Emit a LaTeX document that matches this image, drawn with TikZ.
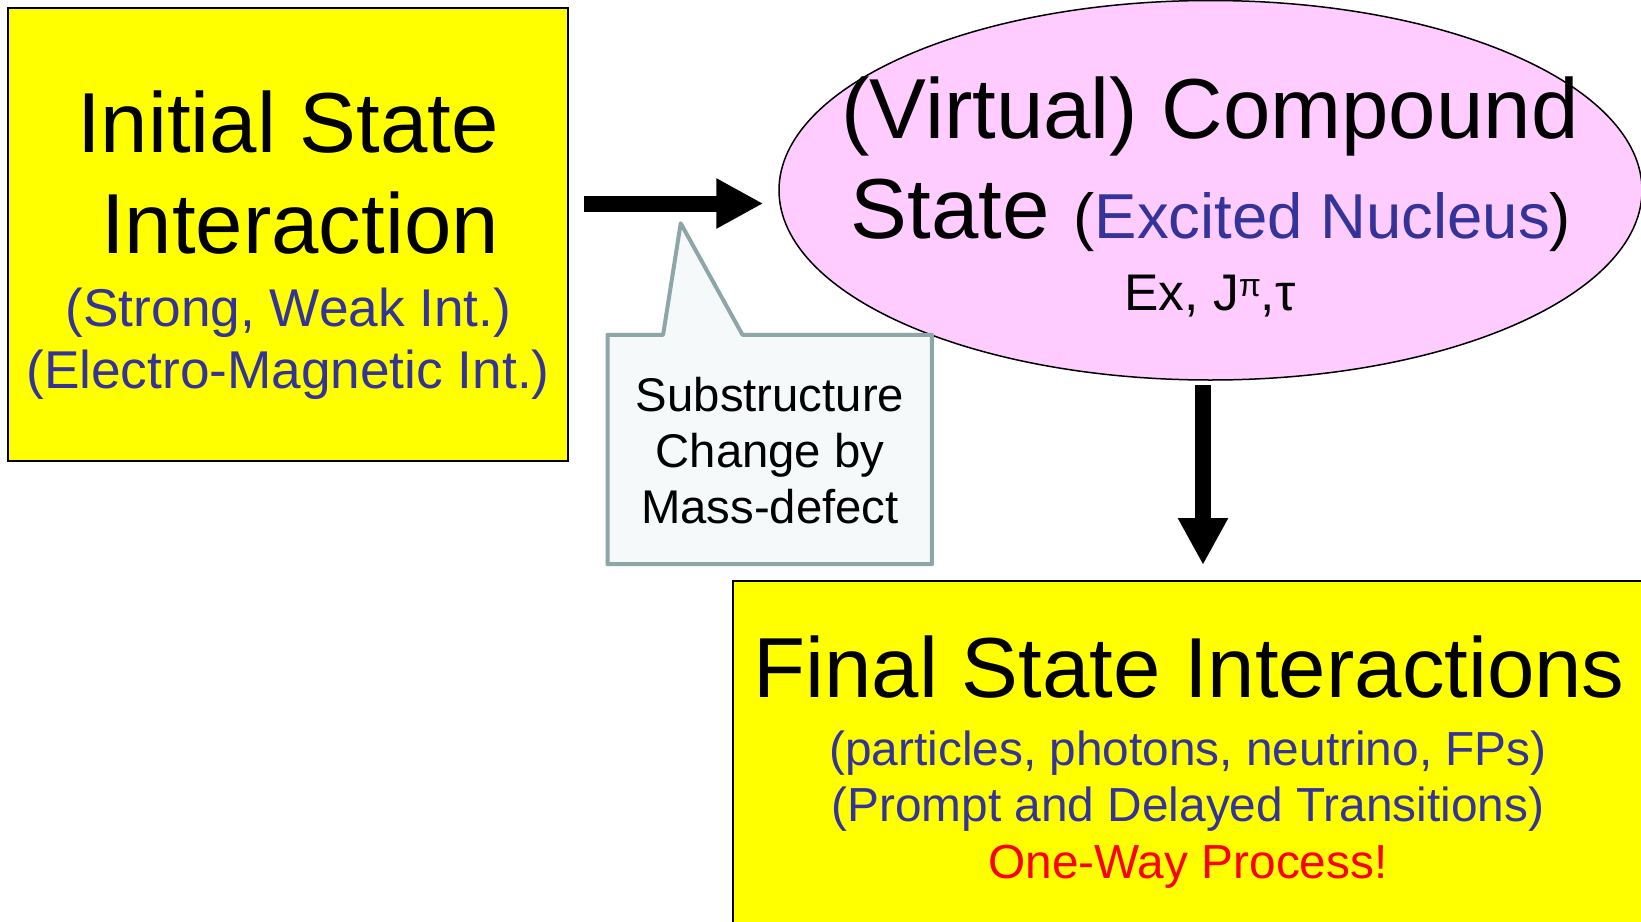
\documentclass[tikz,border=0pt]{standalone}
\usepackage{fontspec}
\setmainfont{Liberation Sans}
\usetikzlibrary{arrows.meta,shapes.geometric,calc}
\definecolor{boxyellow}{HTML}{FFFF00}
\definecolor{nucpink}{HTML}{FFCCFF}
\definecolor{notenavy}{HTML}{333399}
\definecolor{calloutedge}{HTML}{8FA6A8}
\definecolor{calloutfill}{HTML}{F5F9FA}
\newcommand{\fsz}[1]{\fontsize{#1}{#1}\selectfont}

\begin{document}
\begin{tikzpicture}[x=1pt,y=-1pt,
  statebox/.style={draw=black,line width=2pt,fill=boxyellow,rectangle,inner sep=0pt},
  nucleus/.style={draw=black,line width=1.5pt,fill=nucpink,ellipse,inner sep=0pt},
  titletext/.style={anchor=base,inner sep=0pt,font=\fsz{85.2}},
  subtext/.style={anchor=base,inner sep=0pt,text=notenavy,font=\fsz{53.2}},
  finaltext/.style={anchor=base,inner sep=0pt,text=notenavy,font=\fsz{47.8}},
  notetext/.style={anchor=base,inner sep=0pt,font=\fsz{47.3}},
  calloutline/.style={draw=calloutedge,fill=calloutfill,line width=4pt,line join=round},
  bigarrow/.style={line width=16pt,-{Triangle[length=47pt,width=47pt]}}
]
\useasboundingbox (0,0) rectangle (1641,921);
\clip (0,0) rectangle (1641,921);
\fill[white] (0,0) rectangle (1641,921);

% initial state box
\node[statebox,minimum width=559.5pt,minimum height=453.5pt] (init) at (287.75,234.25) {};
\node[titletext] (initA) at (288,152) {Initial State};
\node[titletext] (initB) at (300,253) {Interaction};
\node[subtext] (initC) at (288.5,326) {(Strong, Weak Int.)};
\node[subtext] (initD) at (288,388) {(Electro-Magnetic Int.)};

% compound nucleus
\node[nucleus,minimum width=863pt,minimum height=379.5pt] (ell) at (1210.5,190.25) {};
\node[titletext] (ellA) at (1210,138) {(Virtual) Compound};
\node[titletext] (ellB) at (1211,238) {State {\fsz{63.5}(\textcolor{notenavy}{Excited Nucleus})}};
\node[anchor=base,inner sep=0pt,font=\fsz{51.5}] (ellC) at (1210,310)
  {Ex, J\raisebox{14pt}{\fsz{32}π},τ};

% final state box
\node[statebox,minimum width=912pt,minimum height=359pt] (fin) at (1189,760.5) {};
\node[titletext] (finA) at (1189,697) {Final State Interactions};
\node[finaltext] (finB) at (1188,765) {(particles, photons, neutrino, FPs)};
\node[finaltext] (finC) at (1188,821) {(Prompt and Delayed Transitions)};
\node[finaltext,text=red] (finD) at (1188,878) {One-Way Process!};

% arrows
\draw[bigarrow] ($(init.east)+(15.5,-30.75)$) -- ($(ell.west)+(-15,13.25)$);
\draw[bigarrow] ($(ell.south)+(-7.5,4.5)$) -- ($(fin.north)+(14,-15)$);

% callout note
\node[minimum width=324pt,minimum height=229pt,inner sep=0pt] (note) at (769.7,449.5) {};
\coordinate (ptip) at (680.7,223.3);
\draw[calloutline] (note.north west) -- ($(note.north west)+(55.6,0)$) -- (ptip)
  -- ($(note.north west)+(135,0)$) -- (note.north east) -- (note.south east)
  -- (note.south west) -- cycle;
\node[notetext] (noteA) at (770,411) {Substructure};
\node[notetext] (noteB) at (770,467) {Change by};
\node[notetext] (noteC) at (770,523) {Mass-defect};
\end{tikzpicture}
\end{document}
